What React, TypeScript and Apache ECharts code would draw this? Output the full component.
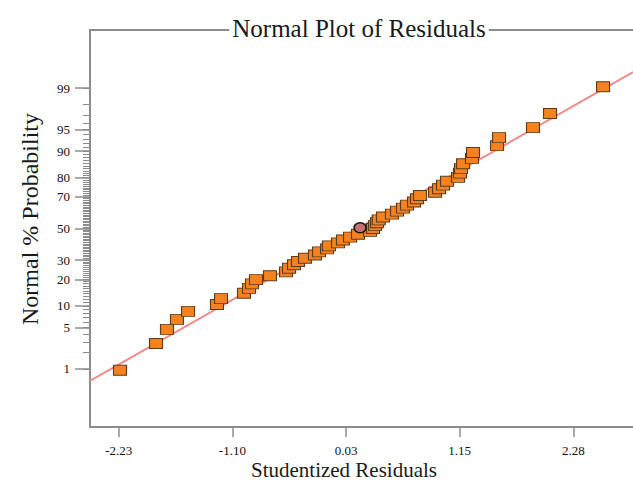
import React, { useEffect, useRef } from "react";
import * as echarts from "echarts";

// Studentized residuals (sorted)
const RESIDUALS = [
  -2.217, -1.86, -1.751, -1.652, -1.542, -1.255, -1.215, -0.987, -0.937, -0.908,
  -0.868, -0.729, -0.57, -0.54, -0.491, -0.451, -0.382, -0.283, -0.243, -0.163,
  -0.144, -0.054, -0.005, 0.065, 0.144, 0.263, 0.293, 0.313, 0.333, 0.35,
  0.392, 0.481, 0.531, 0.59, 0.63, 0.7, 0.729, 0.759, 0.908, 0.948,
  0.987, 1.027, 1.136, 1.156, 1.166, 1.186, 1.275, 1.285, 1.523, 1.543,
  1.88, 2.049, 2.575,
];
// Normal % probability of each point
const PROB_PCT = [
  0.94, 2.83, 4.72, 6.6, 8.49, 10.38, 12.26, 14.15, 16.04, 17.92,
  19.81, 21.7, 23.58, 25.47, 27.36, 29.25, 31.13, 33.02, 34.91, 36.79,
  38.68, 40.57, 42.45, 44.34, 46.23, 48.11, 50.0, 51.89, 53.77, 55.66,
  57.55, 59.43, 61.32, 63.21, 65.09, 66.98, 68.87, 70.75, 72.64, 74.53,
  76.42, 78.3, 80.19, 82.08, 83.96, 85.85, 87.74, 89.62, 91.51, 93.4,
  95.28, 97.17, 99.06,
];
// highlighted (circled) point
const HIGHLIGHT_RESIDUAL = [0.165];
const HIGHLIGHT_PCT = [50.5];

const X_TICK_VALUES = [-2.23, -1.1025, 0.025, 1.1525, 2.28];
const X_TICK_LABELS = ["-2.23", "-1.10", "0.03", "1.15", "2.28"];
const X_MIN = -2.5147;
const X_MAX = 2.872;

const Y_MAJOR_PCT = [1, 5, 10, 20, 30, 50, 70, 80, 90, 95, 99];
const Y_MAJOR_LABELS = ["1", "5", "10", "20", "30", "50", "70", "80", "90", "95", "99"];
const Y_MINOR_PCT = Array.from({ length: 99 }, (_, i) => i + 1);
const Y_RANGE_PCT = [0.05, 99.95];

// reference line: z = slope * (x - x0)
const FIT_SLOPE = 0.95;
const FIT_X0 = 0.143;

function probit(p: number): number {
  const a = [-3.969683028665376e1, 2.209460984245205e2, -2.759285104469687e2, 1.38357751867269e2, -3.066479806614716e1, 2.506628277459239];
  const b = [-5.447609879822406e1, 1.615858368580409e2, -1.556989798598866e2, 6.680131188771972e1, -1.328068155288572e1];
  const c = [-7.784894002430293e-3, -3.223964580411365e-1, -2.400758277161838, -2.549732539343734, 4.374664141464968, 2.938163982698783];
  const d = [7.784695709041462e-3, 3.224671290700398e-1, 2.445134137142996, 3.754408661907416];
  const pl = 0.02425;
  if (p < pl) {
    const q = Math.sqrt(-2 * Math.log(p));
    return (((((c[0] * q + c[1]) * q + c[2]) * q + c[3]) * q + c[4]) * q + c[5]) / ((((d[0] * q + d[1]) * q + d[2]) * q + d[3]) * q + 1);
  }
  if (p <= 1 - pl) {
    const q = p - 0.5;
    const r = q * q;
    return ((((((a[0] * r + a[1]) * r + a[2]) * r + a[3]) * r + a[4]) * r + a[5]) * q) / (((((b[0] * r + b[1]) * r + b[2]) * r + b[3]) * r + b[4]) * r + 1);
  }
  const q = Math.sqrt(-2 * Math.log(1 - p));
  return -(((((c[0] * q + c[1]) * q + c[2]) * q + c[3]) * q + c[4]) * q + c[5]) / ((((d[0] * q + d[1]) * q + d[2]) * q + d[3]) * q + 1);
}

const SERIF = "'Liberation Serif', 'Times New Roman', serif";
const AXIS_GRAY = "#8c8c8c";

export default function App() {
  const ref = useRef<HTMLDivElement>(null);

  useEffect(() => {
    if (!ref.current) return;
    const chart = echarts.init(ref.current, null, { renderer: "svg" });

    const zMin = probit(Y_RANGE_PCT[0] / 100);
    const zMax = probit(Y_RANGE_PCT[1] / 100);
    const majorZ = Y_MAJOR_PCT.map((p) => probit(p / 100));
    const minorZ = Y_MINOR_PCT.map((p) => probit(p / 100));

    const squares = RESIDUALS.map((x, i) => [x, probit(PROB_PCT[i] / 100)]);
    const circle = HIGHLIGHT_RESIDUAL.map((x, i) => [x, probit(HIGHLIGHT_PCT[i] / 100)]);

    const nearestLabel = (v: number, vals: number[], labels: string[]) => {
      let best = 0;
      vals.forEach((t, i) => {
        if (Math.abs(t - v) < Math.abs(vals[best] - v)) best = i;
      });
      return labels[best];
    };

    chart.setOption({
      animation: false,
      backgroundColor: "#fff",
      grid: { left: 90, right: 0, top: 30, bottom: 61, containLabel: false },
      xAxis: [
        {
          type: "value",
          min: X_MIN,
          max: X_MAX,
          position: "bottom",
          axisLine: { show: true, onZero: false, lineStyle: { color: AXIS_GRAY, width: 2 } },
          axisTick: { show: true, length: 10, customValues: X_TICK_VALUES, lineStyle: { color: AXIS_GRAY, width: 1.5 } },
          axisLabel: {
            show: true,
            customValues: X_TICK_VALUES,
            margin: 17,
            fontFamily: SERIF,
            fontSize: 13,
            color: "#111",
            formatter: (v: number) => nearestLabel(v, X_TICK_VALUES, X_TICK_LABELS),
          },
          splitLine: { show: false },
        },
        {
          type: "value",
          min: X_MIN,
          max: X_MAX,
          position: "top",
          axisLine: { show: true, onZero: false, lineStyle: { color: AXIS_GRAY, width: 2 } },
          axisTick: { show: false },
          axisLabel: { show: false },
          splitLine: { show: false },
        },
      ],
      yAxis: [
        {
          type: "value",
          min: zMin,
          max: zMax,
          position: "left",
          axisLine: { show: true, onZero: false, lineStyle: { color: AXIS_GRAY, width: 2 } },
          axisTick: { show: true, length: 15, customValues: majorZ, lineStyle: { color: AXIS_GRAY, width: 1.5 } },
          axisLabel: {
            show: true,
            customValues: majorZ,
            margin: 20,
            fontFamily: SERIF,
            fontSize: 13,
            color: "#111",
            formatter: (v: number) => nearestLabel(v, majorZ, Y_MAJOR_LABELS),
          },
          splitLine: { show: false },
        },
        {
          type: "value",
          min: zMin,
          max: zMax,
          position: "left",
          axisLine: { show: false, onZero: false },
          axisTick: { show: true, length: 7, customValues: minorZ, lineStyle: { color: AXIS_GRAY, width: 1 } },
          axisLabel: { show: false },
          splitLine: { show: false },
        },
      ],
      series: [
        {
          type: "line",
          data: [
            [X_MIN, FIT_SLOPE * (X_MIN - FIT_X0)],
            [X_MAX, FIT_SLOPE * (X_MAX - FIT_X0)],
          ],
          showSymbol: false,
          symbol: "none",
          lineStyle: { color: "#f28a8a", width: 2 },
          z: 1,
          silent: true,
        },
        {
          type: "scatter",
          data: squares,
          symbol: "rect",
          symbolSize: [13, 10],
          itemStyle: { color: "#f5821f", borderColor: "#5e3b18", borderWidth: 1, opacity: 1 },
          z: 3,
        },
        {
          type: "scatter",
          data: circle,
          symbol: "circle",
          symbolSize: [12, 10],
          itemStyle: { color: "#c96f6f", borderColor: "#1a1a1a", borderWidth: 1.5, opacity: 1 },
          z: 4,
        },
      ],
      graphic: [
        {
          type: "text",
          x: 359,
          y: 28,
          z: 100,
          style: {
            text: "Normal Plot of Residuals",
            font: `25px ${SERIF}`,
            fill: "#1a1a1a",
            align: "center",
            verticalAlign: "middle",
            backgroundColor: "#fff",
            padding: [0, 3],
          },
        },
        {
          type: "text",
          x: 344,
          y: 470,
          style: {
            text: "Studentized Residuals",
            font: `21px ${SERIF}`,
            fill: "#1a1a1a",
            align: "center",
            verticalAlign: "middle",
          },
        },
        {
          type: "text",
          x: 30,
          y: 219,
          rotation: Math.PI / 2,
          style: {
            text: "Normal % Probability",
            font: `24px ${SERIF}`,
            fill: "#1a1a1a",
            align: "center",
            verticalAlign: "middle",
          },
        },
      ],
    });

    return () => chart.dispose();
  }, []);

  return (
    <div
      ref={ref}
      style={{ position: "fixed", left: 0, top: 0, width: 633, height: 488 }}
    />
  );
}
